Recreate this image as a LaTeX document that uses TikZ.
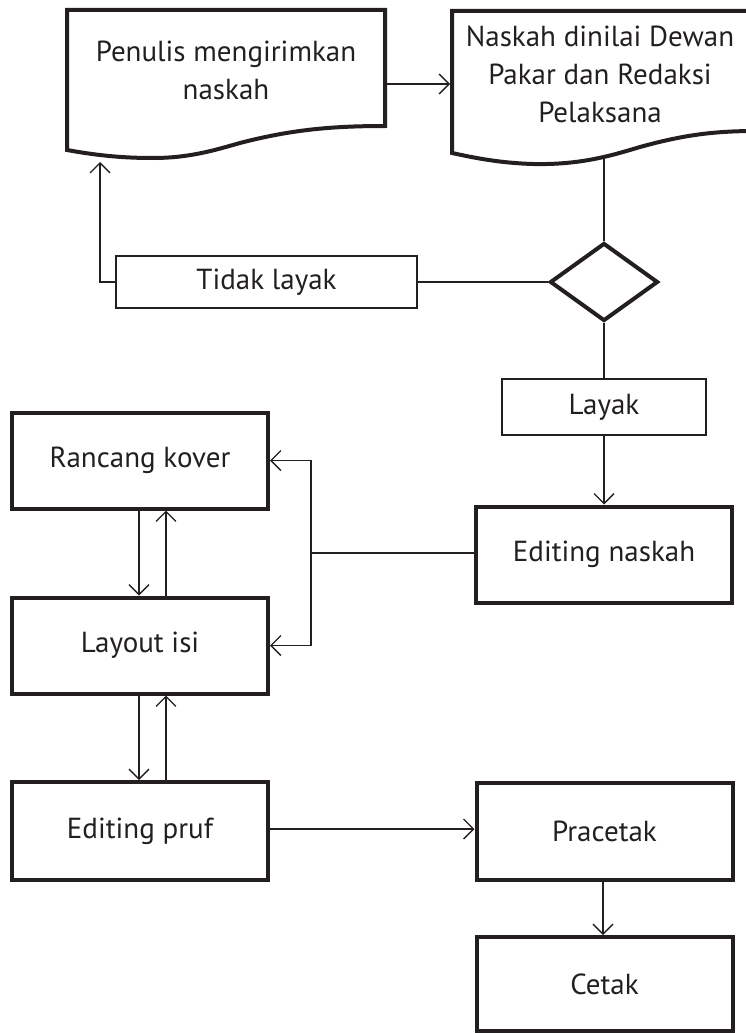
\documentclass[tikz,border=0pt]{standalone}
\usepackage{fontspec}
\setmainfont{PT Sans}
\usepackage{xcolor}
\usepackage{tikz}
\usetikzlibrary{shapes.geometric, arrows.meta, positioning, calc}
\definecolor{ink}{HTML}{231F20}

\begin{document}
\begin{tikzpicture}[
    x=1pt, y=-1pt,
    font=\fontsize{29}{38}\selectfont,
    text=ink,
    box/.style={draw=ink, line width=4pt, minimum width=256pt, minimum height=96pt, align=center},
    label box/.style={draw=ink, line width=1.3pt, align=center},
    doc/.style={draw=ink, line width=4pt, line join=miter},
    decision/.style={diamond, draw=ink, line width=4pt, minimum width=108pt, minimum height=78pt, inner sep=0pt},
    line/.style={draw=ink, line width=1.3pt},
    arrow/.style={line, -{Straight Barb[length=10pt, width=20pt]}}
]
\path[use as bounding box, clip] (0,0) rectangle (746,1033);

% Nodes
\node[align=center] (penulis) at (226,70) {Penulis mengirimkan\\naskah};
\node[align=center] (dinilai) at (600,74) {Naskah dinilai Dewan\\Pakar dan Redaksi\\Pelaksana};
\node[decision] (cek) at (604,282) {};
\node[label box, minimum width=301pt, minimum height=52pt] (tidak) at (266.5,282) {Tidak layak};
\node[label box, minimum width=204pt, minimum height=56pt] (layak) at (604,407) {Layak};
\node[box] (editnaskah) at (604,554.5) {Editing naskah};
\node[box] (kover) at (140,460.5) {Rancang kover};
\node[box] (layout) at (140,645.5) {Layout isi};
\node[box, minimum height=98pt] (pruf) at (140,831) {Editing pruf};
\node[box, minimum height=97pt] (pracetak) at (604.5,831.5) {Pracetak};
\node[box, minimum height=94pt] (cetak) at (604.5,984) {Cetak};

% Document outlines
\draw[doc] (67,150) -- (67,10) -- (385,10) -- (385,126)
    .. controls (330,126) and (290,130) .. (240,143)
    .. controls (215,150) and (190,158) .. (153,158)
    .. controls (125,158) and (100,156) .. cycle;
\draw[doc] (452,153) -- (452,11) -- (756,11) -- (756,131)
    .. controls (710,131) and (680,136) .. (640,147)
    .. controls (610,156) and (580,165) .. (533,164)
    .. controls (500,163) and (475,158) .. cycle;
\coordinate (penuliskanan) at (387,84);
\coordinate (dinilaikiri) at (450,84);
\coordinate (penulisbawah) at (100,162);
\coordinate (dinilaibawah) at (604,156);
\coordinate (cabang) at (311,553);

% Edges
\draw[arrow] (penuliskanan) -- (dinilaikiri);
\draw[line] (dinilaibawah) -- (cek.north);
\draw[line] (cek.west) -- (tidak.east);
\draw[arrow] (tidak.west) -| (penulisbawah);
\draw[line] (cek.south) -- (layak.north);
\draw[arrow] (layak.south) -- (editnaskah.north);
\draw[line] (editnaskah.west |- cabang) -- (cabang);
\draw[arrow] (cabang) |- (kover.east);
\draw[arrow] (cabang) |- (layout.east);
\draw[arrow] ([xshift=-1pt]kover.south) -- ([xshift=-1pt]layout.north);
\draw[arrow] ([xshift=26pt]layout.north) -- ([xshift=26pt]kover.south);
\draw[arrow] ([xshift=-1pt]layout.south) -- ([xshift=-1pt]pruf.north);
\draw[arrow] ([xshift=26pt]pruf.north) -- ([xshift=26pt]layout.south);
\draw[arrow] (pruf.east |- 0,829) -- (pracetak.west |- 0,829);
\draw[arrow] ([xshift=-1.5pt]pracetak.south) -- ([xshift=-1.5pt]cetak.north);

\end{tikzpicture}
\end{document}
